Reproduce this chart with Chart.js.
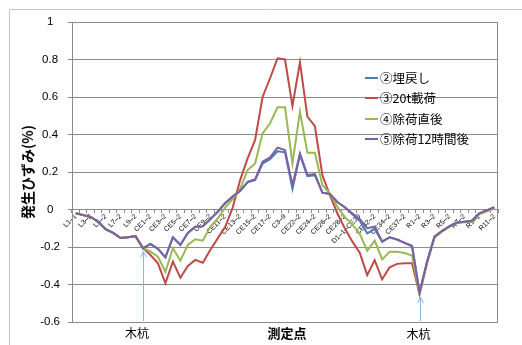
<!DOCTYPE html>
<html>
<head>
<meta charset="utf-8">
<script src="https://cdn.jsdelivr.net/npm/chart.js@4/dist/chart.umd.min.js"></script>
<style>
  html, body { margin: 0; padding: 0; background: #fff; }
  #wrap { position: relative; width: 522px; height: 345px; }
  canvas { display: block; }
  .t { position: absolute; white-space: nowrap; line-height: 1; color: #000;
       font-family: "Noto Sans CJK JP", sans-serif; }
</style>
</head>
<body>
<div id="wrap"><canvas id="c" width="522" height="345"></canvas></div>
<script>
// measuring points along the section (only every other one is labelled on the axis)
const categories = [
  'L1–1','L2–2','L3–2','L4–2','L5–2','L6–2','L7–2','L8–2','L9–2','L10–2',
  'CE1–2','CE2–2','CE3–2','CE4–2','CE5–2','CE6–2','CE7–2','CE8–2','CE9–2','CE10–2',
  'CE11–2','CE12–2','CE13–2','CE14–2','CE15–2','CE16–2','CE17–2','CE18–2','C3–9','CE21–2',
  'CE22–2','CE23–2','CE24–2','CE25–2','CE26–2','CE27–2','CE28–2','CE29–2','D1–1–CE30','CE31–2',
  'CE32–2','CE33–2','CE34–2','CE35–2','CE37–2','CE38–2','R1–2','R2–2','R3–2','R4–2',
  'R5–2','R6–2','R7–2','R8–2','R9–2','R10–2','R11–2'
];

// strain (%) per stage
const backfill = [
  -0.02,-0.03,-0.04,-0.065,-0.105,-0.125,-0.152,-0.148,-0.142,-0.207,
  -0.184,-0.21,-0.255,-0.148,-0.189,-0.125,-0.092,-0.09,-0.052,-0.012,
  0.033,0.068,0.098,0.145,0.157,0.245,0.268,0.31,0.305,0.11,
  0.29,0.178,0.183,0.09,0.083,0.04,0.012,-0.025,-0.06,-0.127,
  -0.105,-0.17,-0.148,-0.16,-0.178,-0.195,-0.44,-0.28,-0.145,-0.115,
  -0.09,-0.07,-0.065,-0.06,-0.02,-0.005,0.012
];
const loaded20t = [
  -0.02,-0.03,-0.04,-0.065,-0.105,-0.125,-0.152,-0.148,-0.142,-0.205,
  -0.243,-0.287,-0.394,-0.278,-0.364,-0.301,-0.269,-0.284,-0.216,-0.154,
  -0.092,0.01,0.157,0.273,0.371,0.6,0.7,0.806,0.8,0.552,
  0.785,0.495,0.445,0.184,0.077,-0.02,-0.1,-0.17,-0.23,-0.35,
  -0.27,-0.372,-0.308,-0.29,-0.287,-0.287,-0.452,-0.285,-0.148,-0.115,
  -0.09,-0.07,-0.066,-0.062,-0.022,-0.008,0.01
];
const justUnloaded = [
  -0.02,-0.03,-0.04,-0.065,-0.105,-0.125,-0.152,-0.148,-0.142,-0.205,
  -0.225,-0.252,-0.332,-0.207,-0.273,-0.189,-0.159,-0.166,-0.092,-0.047,
  0.01,0.055,0.11,0.21,0.246,0.406,0.46,0.545,0.545,0.246,
  0.522,0.303,0.303,0.131,0.086,0.015,-0.04,-0.08,-0.13,-0.22,
  -0.166,-0.266,-0.225,-0.225,-0.232,-0.245,-0.45,-0.285,-0.15,-0.118,
  -0.092,-0.072,-0.068,-0.065,-0.025,-0.01,0.005
];
const unloaded12h = [
  -0.02,-0.03,-0.04,-0.065,-0.105,-0.125,-0.152,-0.148,-0.142,-0.207,
  -0.184,-0.21,-0.255,-0.148,-0.189,-0.125,-0.092,-0.09,-0.052,-0.012,
  0.035,0.07,0.1,0.148,0.161,0.255,0.278,0.33,0.317,0.13,
  0.3,0.184,0.189,0.09,0.083,0.04,0.012,-0.02,-0.05,-0.1,
  -0.092,-0.172,-0.148,-0.16,-0.178,-0.195,-0.445,-0.28,-0.145,-0.115,
  -0.09,-0.07,-0.065,-0.06,-0.02,-0.005,0.012
];

const seriesNames = ['②埋戻し', '③20t載荷', '④除荷直後', '⑤除荷12時間後'];
const seriesColors = ['#4a7ebb', '#be4b48', '#98b954', '#7d60a0'];
const yTickValues = [-0.6, -0.4, -0.2, 0, 0.2, 0.4, 0.6, 0.8, 1];
const yTickLabels = ['-0.6', '-0.4', '-0.2', '0', '0.2', '0.4', '0.6', '0.8', '1'];

// wooden piles marked under the axis
const pileIndices = [9, 46];
const pileLabel = '木杭';
const xTitle = '測定点';
const yTitle = '発生ひずみ(%)';

const GRID = '#8c8c8c';
const seriesData = [backfill, loaded20t, justUnloaded, unloaded12h];
const legendRows = [77.5, 98, 118.5, 139];

function tickText(v) {
  const k = yTickValues.findIndex(t => Math.abs(t - v) < 1e-6);
  return k < 0 ? '' : yTickLabels[k];
}

// the first dataset is painted last, so list the series back to front
const datasets = seriesData.map((d, i) => ({
  label: seriesNames[i],
  data: d,
  borderColor: seriesColors[i],
  borderWidth: 2,
  pointRadius: 0
})).reverse();

const backdrop = {
  id: 'backdrop',
  beforeDraw(chart) {
    const ctx = chart.ctx;
    ctx.save();
    ctx.fillStyle = '#fff';
    ctx.fillRect(0, 0, chart.width, chart.height);
    ctx.strokeStyle = '#c8c8c8';
    ctx.lineWidth = 1;
    ctx.beginPath();
    ctx.moveTo(9.5, chart.height);
    ctx.lineTo(9.5, 9.5);
    ctx.lineTo(chart.width, 9.5);
    ctx.stroke();
    ctx.restore();
  }
};

const marks = {
  id: 'marks',
  afterDraw(chart) {
    const ctx = chart.ctx;
    const a = chart.chartArea;
    const xs = chart.scales.x, ys = chart.scales.y;
    ctx.save();

    // right edge of the plot area
    ctx.strokeStyle = GRID;
    ctx.lineWidth = 1;
    ctx.beginPath();
    ctx.moveTo(Math.round(a.right) - 0.5, a.top);
    ctx.lineTo(Math.round(a.right) - 0.5, a.bottom);
    ctx.stroke();

    // pile arrows
    ctx.strokeStyle = '#8eb4e3';
    pileIndices.forEach(idx => {
      const x = Math.round(xs.getPixelForValue(idx)) + 0.5;
      const minVal = Math.min(...seriesData.map(s => s[idx]));
      const tip = ys.getPixelForValue(minVal) + 3;
      ctx.beginPath();
      ctx.moveTo(x, a.bottom - 1);
      ctx.lineTo(x, tip);
      ctx.moveTo(x - 3, tip + 6);
      ctx.lineTo(x, tip);
      ctx.lineTo(x + 3, tip + 6);
      ctx.stroke();
    });

    // legend swatches
    ctx.lineWidth = 2;
    seriesColors.forEach((c, i) => {
      const y = Math.round(legendRows[i]);
      ctx.strokeStyle = c;
      ctx.beginPath();
      ctx.moveTo(365, y);
      ctx.lineTo(378, y);
      ctx.stroke();
    });
    ctx.restore();
  }
};

const chart = new Chart(document.getElementById('c'), {
  type: 'line',
  data: { labels: categories, datasets },
  options: {
    responsive: false,
    devicePixelRatio: 1,
    animation: false,
    layout: { padding: { left: 0, top: 22, right: 24, bottom: 23 } },
    plugins: { legend: { display: false }, tooltip: { enabled: false } },
    scales: {
      x: {
        type: 'category',
        position: { y: 0 },
        offset: true,
        grid: { drawOnChartArea: false, offset: true, tickLength: 3, color: GRID },
        border: { display: true, color: GRID },
        ticks: {
          autoSkip: false, minRotation: 45, maxRotation: 45, padding: 0, color: '#000',
          font: { family: '"Liberation Sans", Arial, sans-serif', size: 7 },
          callback: (v, i) => (i % 2 === 0 ? categories[i] : '')
        }
      },
      y: {
        min: -0.6,
        max: 1,
        afterFit: s => { s.width = 72; },
        grid: { color: GRID, tickLength: 4 },
        border: { display: true, color: GRID },
        ticks: {
          stepSize: 0.2, autoSkip: false, padding: 8, crossAlign: 'center', color: '#000',
          font: { family: '"Liberation Sans", Arial, sans-serif', size: 11.5 },
          callback: v => tickText(v)
        }
      }
    }
  },
  plugins: [backdrop, marks]
});

// Japanese captions laid over the canvas, positioned from the chart's own scales
const wrap = document.getElementById('wrap');
function caption(text, x, y, css, transform) {
  const d = document.createElement('div');
  d.className = 't';
  d.textContent = text;
  d.style.left = x + 'px';
  d.style.top = y + 'px';
  d.style.cssText += css;
  d.style.transform = transform;
  wrap.appendChild(d);
}
const area = chart.chartArea;
const xsc = chart.scales.x;
caption(pileLabel, xsc.getPixelForValue(pileIndices[0]) - 6, 333, 'font-size:12px;', 'translate(-50%,-50%)');
caption(pileLabel, xsc.getPixelForValue(pileIndices[1]) - 1, 334, 'font-size:12px;', 'translate(-50%,-50%)');
caption(xTitle, (area.left + area.right) / 2 + 2, 332, 'font-size:13px;font-weight:bold;', 'translate(-50%,-50%)');
caption(yTitle, 27, (area.top + area.bottom) / 2, 'font-size:14px;font-weight:bold;', 'translate(-50%,-50%) rotate(-90deg)');
seriesNames.forEach((name, i) => {
  caption(name, 380, legendRows[i], 'font-size:12.5px;', 'translate(0,-50%)');
});
</script>
</body>
</html>
